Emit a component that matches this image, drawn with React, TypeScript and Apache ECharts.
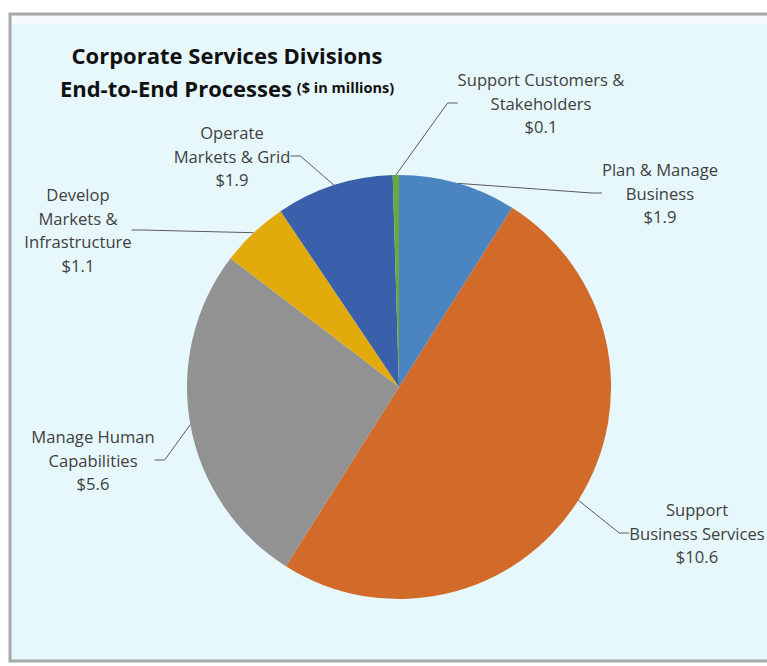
import React, { useEffect, useRef } from "react";
import * as echarts from "echarts";

const categories = [
  "Plan & Manage\nBusiness",
  "Support\nBusiness Services",
  "Manage Human\nCapabilities",
  "Develop\nMarkets &\nInfrastructure",
  "Operate\nMarkets & Grid",
  "Support Customers &\nStakeholders",
];
const values = [1.9, 10.6, 5.6, 1.1, 1.9, 0.1];
const colors = ["#4A85C2", "#D26A2A", "#929292", "#E3AA0B", "#3A60AB", "#6BA63F"];
// label anchor positions (text block centre), in px
const labelPos: [number, number][] = [
  [660, 193],
  [697, 533],
  [93, 460],
  [78, 230],
  [232, 156],
  [541, 103],
];

const FONT = "Open Sans";

export default function App() {
  const ref = useRef<HTMLDivElement>(null);
  useEffect(() => {
    const chart = echarts.init(ref.current!, null, { renderer: "svg" });
    chart.setOption({
      animation: false,
      backgroundColor: "#ffffff",
      graphic: [
        {
          type: "rect",
          z: -10,
          shape: { x: 10, y: 14, width: 770, height: 647 },
          style: { fill: "#E7F8FC", stroke: "#A8AAAA", lineWidth: 3 },
        },
        {
          type: "rect",
          z: -9,
          shape: { x: 12, y: 16, width: 770, height: 8 },
          style: { fill: "#F6FCFE" },
        },
      ],
      title: {
        text: "{a|Corporate Services Divisions}\n{a|End-to-End Processes} {b|($ in millions)}",
        left: 222,
        top: 33,
        textAlign: "center",
        textStyle: {
          rich: {
            a: { fontFamily: FONT, fontWeight: "bold", fontSize: 22, color: "#111", lineHeight: 33 },
            b: { fontFamily: FONT, fontWeight: "bold", fontSize: 14.5, color: "#111", lineHeight: 33 },
          },
        },
      },
      series: [
        {
          type: "pie",
          center: [399, 387],
          radius: 212,
          startAngle: 90,
          clockwise: true,
          color: colors,
          data: categories.map((n, i) => ({ name: n, value: values[i] })),
          label: {
            show: true,
            position: "outside",
            formatter: (p: any) => `${p.name}\n$${p.value.toFixed(1)}`,
            fontFamily: FONT,
            fontSize: 16.6,
            lineHeight: 23.5,
            color: "#404040",
            align: "center",
          },
          labelLine: {
            show: true,
            length: 15,
            length2: 10,
            lineStyle: { color: "#5a5a5a", width: 1 },
          },
          labelLayout: (p: any) => ({
            x: labelPos[p.dataIndex][0],
            y: labelPos[p.dataIndex][1],
            align: "center",
            verticalAlign: "middle",
          }),
          itemStyle: { borderWidth: 0 },
          emphasis: { disabled: true },
        },
      ],
    });
    return () => chart.dispose();
  }, []);
  return <div ref={ref} style={{ position: "absolute", left: 0, top: 0, width: 767, height: 666 }} />;
}
